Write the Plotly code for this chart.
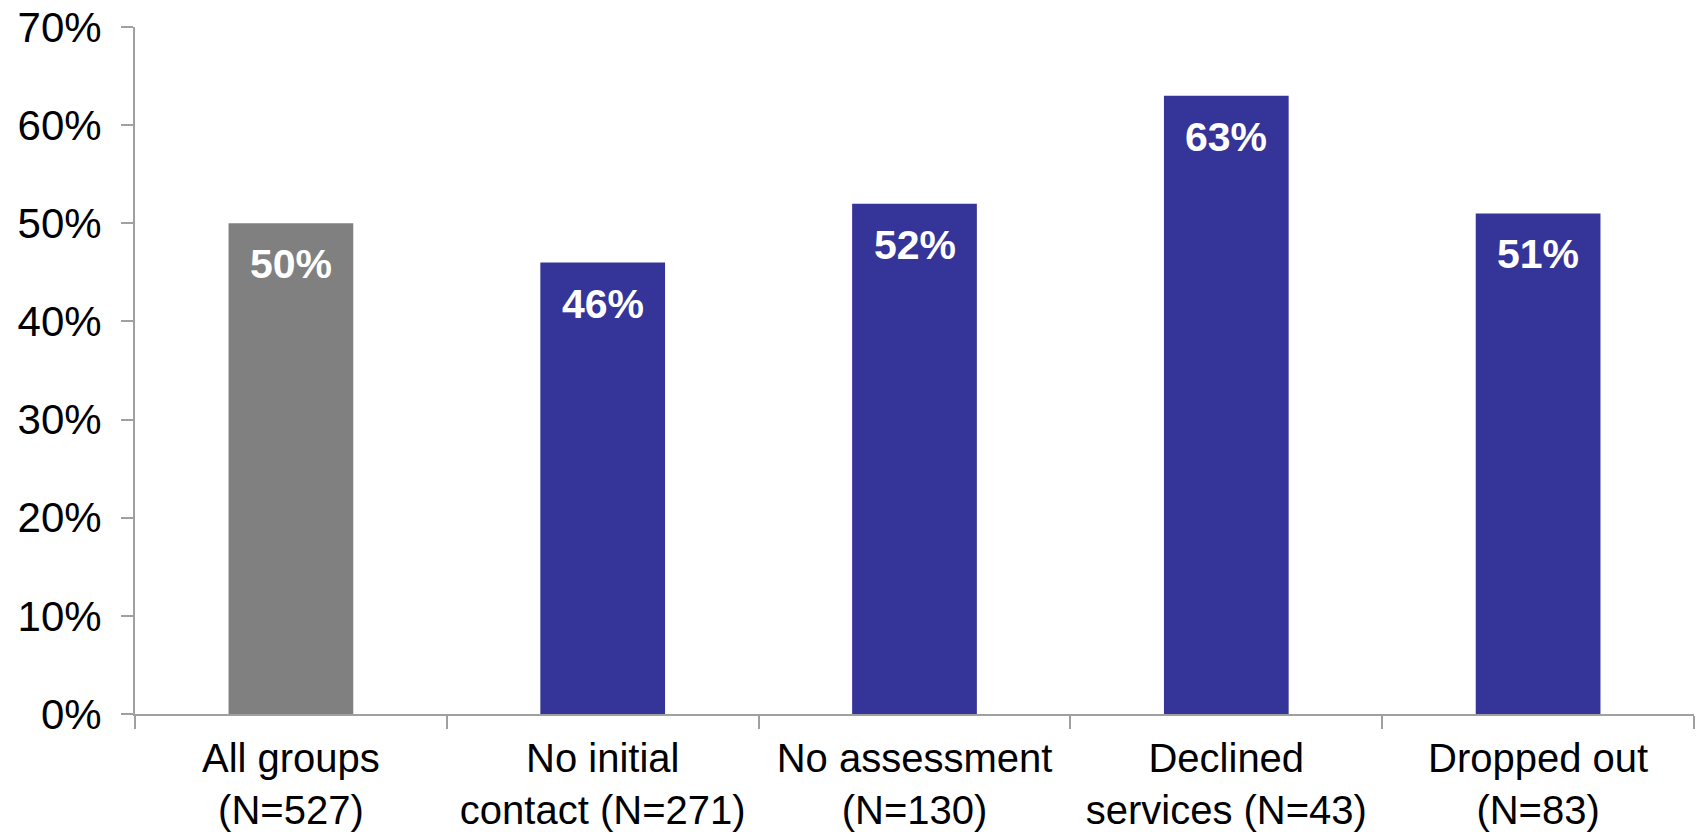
import plotly.graph_objects as go

# Share of each group, in percent
categories = [
    "All groups<br>(N=527)",
    "No initial<br>contact (N=271)",
    "No assessment<br>(N=130)",
    "Declined<br>services (N=43)",
    "Dropped out<br>(N=83)",
]
values = [50, 46, 52, 63, 51]
bar_colors = ["#808080", "#343499", "#343499", "#343499", "#343499"]
y_ticks = [0, 10, 20, 30, 40, 50, 60, 70]
y_tick_labels = [f"{v}%" for v in y_ticks]

FONT = "Liberation Sans, Arial, sans-serif"
AXIS_COLOR = "#a0a0a0"

fig = go.Figure(
    go.Bar(
        x=categories,
        y=values,
        marker=dict(color=bar_colors, line=dict(width=0)),
        width=0.4,
        hoverinfo="skip",
    )
)

# Value labels, white bold, set just inside the top of each bar
for cat, val in zip(categories, values):
    fig.add_annotation(
        x=cat,
        y=val,
        text=f"<b>{val}%</b>",
        showarrow=False,
        yanchor="middle",
        yshift=-41,
        font=dict(family=FONT, size=41, color="white"),
    )

fig.update_layout(
    width=1696,
    height=839,
    margin=dict(l=135, r=2, t=27, b=125),
    paper_bgcolor="white",
    plot_bgcolor="white",
    showlegend=False,
    font=dict(family=FONT, size=42, color="black"),
    bargap=0.6,
)

fig.update_xaxes(
    type="category",
    automargin=False,
    showline=True,
    linecolor=AXIS_COLOR,
    linewidth=2,
    ticks="outside",
    tickson="boundaries",
    ticklen=13,
    tickwidth=2,
    tickcolor=AXIS_COLOR,
    ticklabelstandoff=8,
    showgrid=False,
    tickfont=dict(family=FONT, size=40, color="black"),
    fixedrange=True,
)

fig.update_yaxes(
    range=[0, 70],
    automargin=False,
    tickvals=y_ticks,
    ticktext=y_tick_labels,
    showline=True,
    linecolor=AXIS_COLOR,
    linewidth=2,
    ticks="outside",
    ticklen=12,
    tickwidth=2,
    tickcolor=AXIS_COLOR,
    ticklabelstandoff=11,
    showgrid=False,
    zeroline=False,
    tickfont=dict(family=FONT, size=42, color="black"),
    fixedrange=True,
)

fig.write_html("out.html", config={"displayModeBar": False})
